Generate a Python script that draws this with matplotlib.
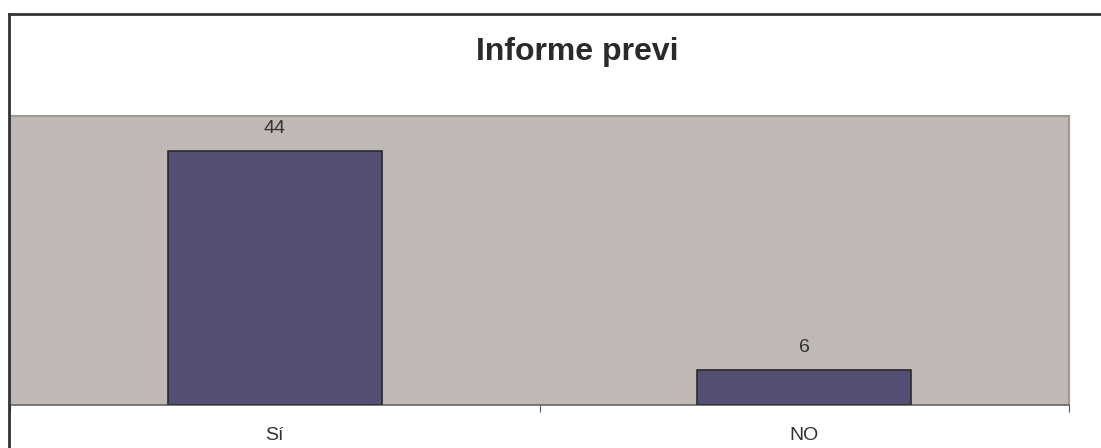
import matplotlib
matplotlib.use("Agg")
import matplotlib.pyplot as plt
from matplotlib.lines import Line2D

categories = ["Sí", "NO"]
values = [44, 6]
title = "Informe previ"

plt.rcParams['font.family'] = ['Liberation Sans', 'DejaVu Sans']

W, H = 1101, 448
fig = plt.figure(figsize=(W / 100, H / 100), dpi=100)
fig.patch.set_facecolor("white")

left, right, top, bottom = 10, 1069, 116, 405
ax = fig.add_axes([left / W, 1 - bottom / H, (right - left) / W, (bottom - top) / H])
ax.set_facecolor("#c0b8b5")

x = list(range(len(categories)))
bars = ax.bar(x, values, width=0.404, color="#544f74", edgecolor="#2a2a2a", linewidth=1.2, zorder=3)
ax.set_xlim(-0.5, len(categories) - 0.5)
ax.set_ylim(0, 50)

for xi, v in zip(x, values):
    ax.annotate(str(v), (xi, v), xytext=(0, 13), textcoords="offset points",
                ha="center", va="baseline", fontsize=14, color="#333333")

ax.set_yticks([])
ax.set_xticks([-0.5, 0.5, 1.5])
ax.set_xticklabels([])
ax.tick_params(axis="x", direction="out", length=5, width=0.8, color="#555555")
for xi, c in zip(x, categories):
    ax.annotate(c, (xi, 0), xytext=(0, -(440 - bottom) * 0.72), textcoords="offset points",
                ha="center", va="baseline", fontsize=14, color="#333333",
                annotation_clip=False)

for s in ["top", "right", "left"]:
    ax.spines[s].set_color("#a09893")
    ax.spines[s].set_linewidth(1.5)
ax.spines["bottom"].set_color("#666666")
ax.spines["bottom"].set_linewidth(1.2)

fig.text(577 / W, 1 - 60 / H, title, ha="center", va="baseline", fontsize=23,
         fontweight="bold", color="#2a2a2a")

# figure border (top and left)
fig.add_artist(Line2D([9 / W, 1], [1 - 14 / H, 1 - 14 / H], transform=fig.transFigure,
                      color="#333333", linewidth=2))
fig.add_artist(Line2D([9 / W, 9 / W], [0, 1 - 14 / H], transform=fig.transFigure,
                      color="#333333", linewidth=2))

fig.savefig("out.png", dpi=100)
